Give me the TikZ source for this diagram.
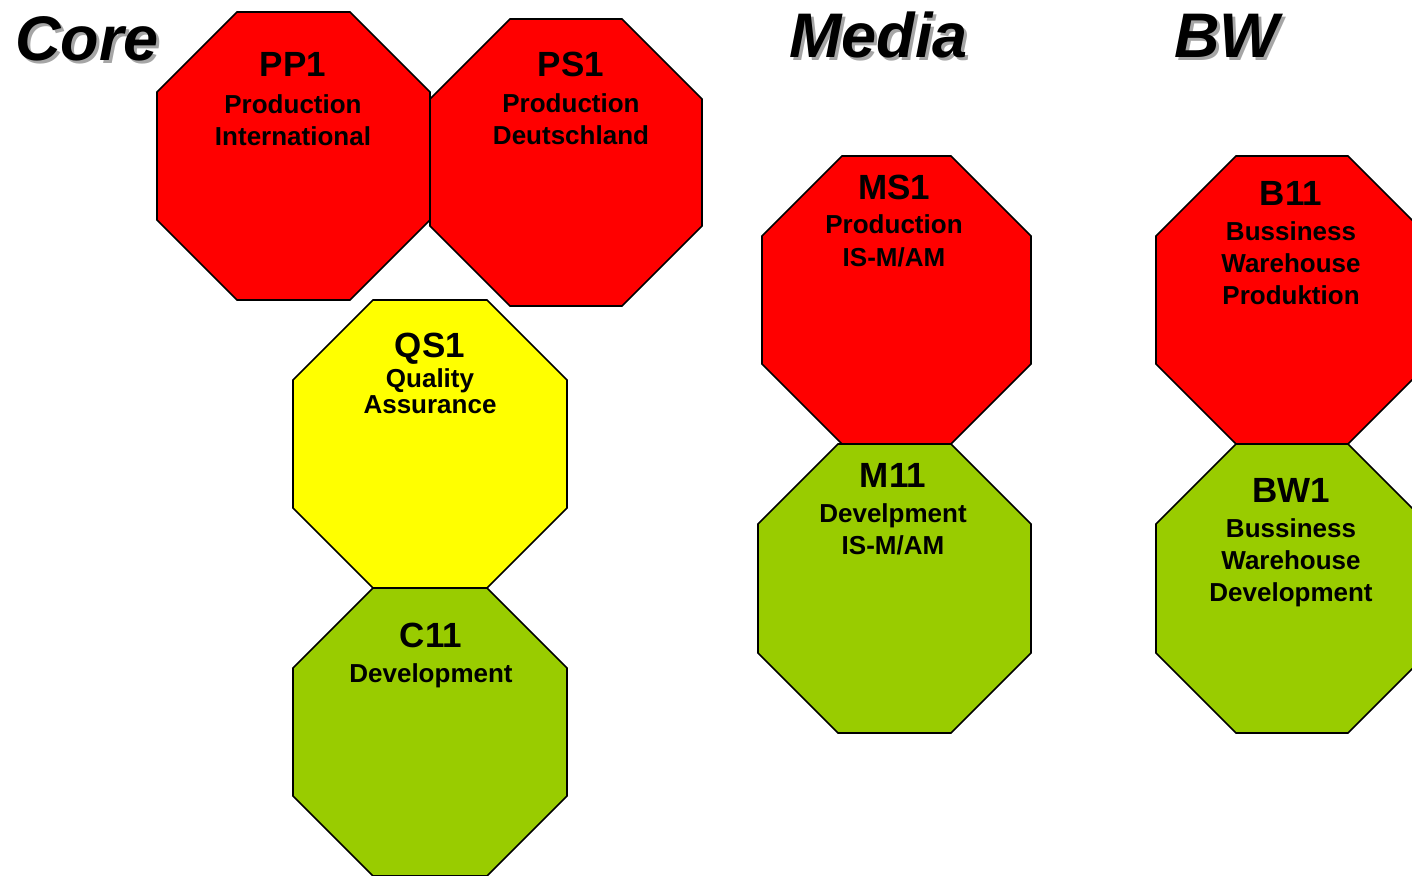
\documentclass[tikz,border=0pt]{standalone}
\usepackage{fontspec}
\setmainfont{Liberation Sans}
\usetikzlibrary{positioning}

\definecolor{stopred}{HTML}{FF0000}
\definecolor{stopyellow}{HTML}{FFFF00}
\definecolor{stopgreen}{HTML}{99CC00}
\definecolor{shadowgray}{HTML}{A6A6A6}

% octagon from its bounding box: left, top, right, bottom, fill
\newcommand{\octagon}[5]{%
  \draw[octa, fill=#5] (#1+80,#2) -- (#3-80,#2) -- (#3,#2+80) -- (#3,#4-80)
    -- (#3-80,#4) -- (#1+80,#4) -- (#1,#4-80) -- (#1,#2+80) -- cycle;}
% heading text with a grey drop shadow
\newcommand{\shadowed}[1]{%
  \rlap{\kern3pt\raisebox{-3pt}{\textcolor{shadowgray}{#1}}}#1}

\tikzset{
  octa/.style={draw=black, line width=1.6pt, line join=miter},
  octtitle/.style={font=\bfseries\fontsize{35}{35}\selectfont, anchor=base, inner sep=0pt},
  octbody/.style={font=\bfseries\fontsize{26}{32}\selectfont, align=center, anchor=north, inner sep=0pt},
  heading/.style={font=\bfseries\itshape\fontsize{63}{63}\selectfont, anchor=base west, inner sep=0pt}
}

\begin{document}
\begin{tikzpicture}[x=1pt,y=-1pt]
\clip (0,0) rectangle (1412,875);

% headings
\node[heading] (core) at (15,60) {\shadowed{Core}};
\node[heading] (media) at (789,57) {\shadowed{Media}};
\node[heading] (bw) at (1174,57) {\shadowed{BW}};

% core
\octagon{157}{12}{430}{300}{stopred}
\octagon{430}{19}{702}{306}{stopred}
\octagon{293}{300}{567}{588}{stopyellow}
\octagon{293}{588}{567}{876}{stopgreen}

\node[octtitle] (pp1) at (293,76) {PP1};
\node[octbody] (pp1txt) at (293,94) {Production\\International};
\node[octtitle] (ps1) at (571,77) {PS1};
\node[octbody] (ps1txt) at (571,93) {Production\\Deutschland};
\node[octtitle] (qs1) at (430,357) {QS1};
\node[octbody, font=\bfseries\fontsize{26}{26}\selectfont] (qs1txt) at (430,368) {Quality\\Assurance};
\node[octtitle] (c11) at (431,647) {C11};
\node[octbody] (c11txt) at (431,663) {Development};

% media
\octagon{762}{156}{1031}{444}{stopred}
\octagon{758}{444}{1031}{733}{stopgreen}

\node[octtitle] (ms1) at (894,199) {MS1};
\node[octbody, font=\bfseries\fontsize{26}{33}\selectfont] (ms1txt) at (894,214) {Production\\IS-M/AM};
\node[octtitle] (m11) at (893,487) {M11};
\node[octbody] (m11txt) at (893,503) {Develpment\\IS-M/AM};

% bw
\octagon{1156}{156}{1428}{444}{stopred}
\octagon{1156}{444}{1428}{733}{stopgreen}

\node[octtitle] (b11) at (1291,205) {B11};
\node[octbody] (b11txt) at (1291,221) {Bussiness\\Warehouse\\Produktion};
\node[octtitle] (bw1) at (1291,502) {BW1};
\node[octbody] (bw1txt) at (1291,518) {Bussiness\\Warehouse\\Development};
\end{tikzpicture}
\end{document}
